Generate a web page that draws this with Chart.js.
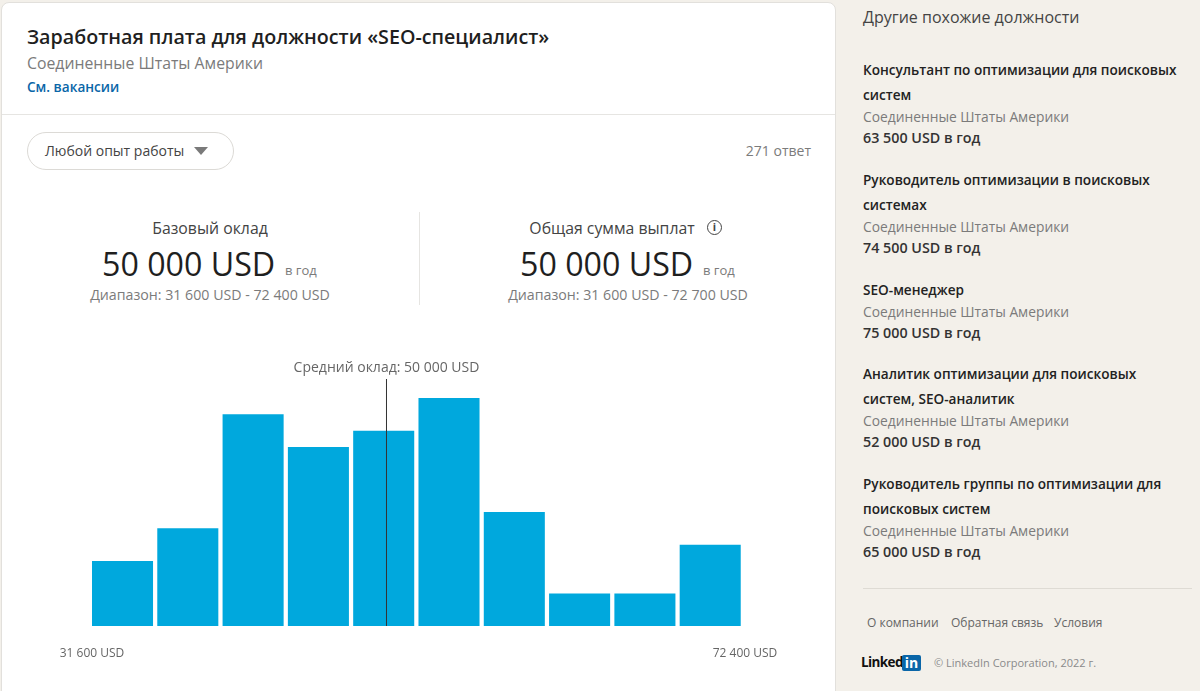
<!DOCTYPE html>
<html lang="ru">
<head>
<meta charset="utf-8">
<title>Заработная плата</title>
<script src="https://cdn.jsdelivr.net/npm/chart.js@4"></script>
<style>
  html, body { margin: 0; padding: 0; }
  body { width: 1200px; height: 691px; background: #f3f0ea; overflow: hidden; position: relative; font-family: "Open Sans", "Noto Sans", sans-serif; color: #2b2b2b; }
  #card { position: absolute; left: 1px; top: 2px; width: 835px; height: 700px; background: #fff; border: 1px solid #e2e0dc; border-radius: 8px; box-sizing: border-box; }
  .t { position: absolute; white-space: nowrap; line-height: 1.2; }
  .center { transform: translateX(-50%); }
  .grey { color: #7b7b7b; }
  .rule { position: absolute; background: #e6e5e2; }
  #salaryChart { position: absolute; left: 0; top: 340px; }
  #pill { position: absolute; left: 27px; top: 132px; width: 207px; height: 38px; border: 1px solid #dcdad6; border-radius: 19px; box-sizing: border-box; background: #fff; }
  #caret { position: absolute; left: 194px; top: 147px; width: 0; height: 0; border-left: 7px solid transparent; border-right: 7px solid transparent; border-top: 8px solid #7a7a7a; }
  #info { position: absolute; left: 707px; top: 220px; width: 15px; height: 15px; border: 1.5px solid #444; border-radius: 50%; box-sizing: border-box; font-size: 11px; font-weight: 700; line-height: 12px; text-align: center; color: #444; }
  #logoIn { position: absolute; left: 902px; top: 655px; width: 19px; height: 16px; background: #0a66a8; color: #fff; border-radius: 2px; font-size: 14px; font-weight: 700; line-height: 16px; text-align: center; }
</style>
</head>
<body>
<div id="card"></div>
<div class="t" style="left:27px;top:25px;font-size:19.7px;font-weight:600;color:#1f1f1f">Заработная плата для должности «SEO-специалист»</div>
<div class="t grey" style="left:27px;top:54px;font-size:15.8px">Соединенные Штаты Америки</div>
<div class="t" style="left:27px;top:79px;font-size:13.6px;font-weight:600;color:#0a66a8">См. вакансии</div>
<div class="rule" style="left:2px;top:114px;width:833px;height:1px"></div>
<div id="pill"></div>
<div class="t" style="left:45px;top:143px;font-size:14px;color:#444">Любой опыт работы</div>
<div id="caret"></div>
<div class="t grey" style="right:389px;top:143px;font-size:14px">271 ответ</div>

<div class="t center" style="left:210px;top:219px;font-size:15.8px;color:#444">Базовый оклад</div>
<div class="t" style="left:102px;top:245px;font-size:32.2px;color:#1f1f1f">50 000 USD</div>
<div class="t grey" style="left:285px;top:263px;font-size:13px">в год</div>
<div class="t center grey" style="left:210px;top:286px;font-size:14.2px">Диапазон: 31 600 USD - 72 400 USD</div>
<div class="rule" style="left:419px;top:212px;width:1px;height:93px"></div>
<div class="t center" style="left:612px;top:219px;font-size:15.8px;color:#444">Общая сумма выплат</div>
<div id="info">i</div>
<div class="t" style="left:520px;top:245px;font-size:32.2px;color:#1f1f1f">50 000 USD</div>
<div class="t grey" style="left:703px;top:263px;font-size:13px">в год</div>
<div class="t center grey" style="left:628px;top:286px;font-size:14.2px">Диапазон: 31 600 USD - 72 700 USD</div>

<canvas id="salaryChart" width="836" height="351"></canvas>

<div class="t" style="left:863px;top:8px;font-size:16px;color:#444">Другие похожие должности</div>
<div id="similar"></div>
<div class="rule" style="left:863px;top:588px;width:329px;height:1px;background:#dedbd4"></div>
<div class="t" style="left:867px;top:616px;font-size:12px;color:#666">О компании</div>
<div class="t" style="left:951px;top:616px;font-size:12px;color:#666">Обратная связь</div>
<div class="t" style="left:1054px;top:616px;font-size:12px;color:#666">Условия</div>
<div class="t" style="left:861px;top:654px;font-size:13.5px;font-weight:700;color:#111;letter-spacing:-0.6px">Linked</div>
<div id="logoIn">in</div>
<div class="t" style="left:934px;top:656px;font-size:11px;color:#8a8a8a">© LinkedIn Corporation, 2022 г.</div>

<script>
// Chart data
const binCentres = [33506, 37586, 41666, 45746, 49826, 53906, 57986, 62066, 66146, 70226];
const binCounts = [4, 6, 13, 11, 12, 14, 7, 2, 2, 5];
const rangeTicks = [31600, 72400];
const medianSalary = 50000;
const medianLineTop = 15.17;

// Sidebar data
const similarTitles = [
    ['Консультант по оптимизации для поисковых', 'систем'],
    ['Руководитель оптимизации в поисковых', 'системах'],
    ['SEO-менеджер'],
    ['Аналитик оптимизации для поисковых', 'систем, SEO-аналитик'],
    ['Руководитель группы по оптимизации для', 'поисковых систем']
];
const similarPay = ['63 500 USD в год', '74 500 USD в год', '75 000 USD в год', '52 000 USD в год', '65 000 USD в год'];
const similarTops = [62, 172, 282, 366, 476];

const fmtUsd = v => String(v).replace(/(\d)(?=(\d{3})$)/, '$1 ') + ' USD';

// Sidebar
const similar = document.getElementById('similar');
similarTitles.forEach((lines, i) => {
    let y = similarTops[i];
    let html = '';
    lines.forEach(line => {
        html += `<div class="t" style="left:863px;top:${y}px;font-size:13.6px;font-weight:600;color:#222">${line}</div>`;
        y += 25;
    });
    y -= 3;
    html += `<div class="t grey" style="left:863px;top:${y}px;font-size:13.8px">Соединенные Штаты Америки</div>`;
    html += `<div class="t" style="left:863px;top:${y + 20}px;font-size:14.3px;font-weight:600;color:#333">${similarPay[i]}</div>`;
    similar.innerHTML += html;
});

// Label above the median line
const medianLabel = {
    id: 'medianLabel',
    afterDraw(chart) {
        const ctx = chart.ctx;
        const x = chart.scales.x.getPixelForValue(medianSalary);
        ctx.save();
        ctx.font = '14px "Open Sans"';
        ctx.fillStyle = '#666';
        ctx.textAlign = 'center';
        ctx.textBaseline = 'middle';
        ctx.fillText('Средний оклад: ' + fmtUsd(medianSalary), x, 28);
        ctx.restore();
    }
};

new Chart(document.getElementById('salaryChart'), {
    data: {
        datasets: [
            {
                type: 'line',
                data: [{x: medianSalary, y: 0}, {x: medianSalary, y: medianLineTop}],
                borderColor: '#333',
                borderWidth: 1,
                pointRadius: 0,
                order: 0
            },
            {
                type: 'bar',
                data: binCentres.map((x, i) => ({x, y: binCounts[i]})),
                backgroundColor: '#00a8dd',
                barPercentage: 0.935,
                categoryPercentage: 1,
                order: 1
            }
        ]
    },
    options: {
        responsive: false,
        animation: false,
        layout: {padding: {left: 92, right: 91, top: 39, bottom: 17.5}},
        plugins: {legend: {display: false}, tooltip: {enabled: false}},
        scales: {
            x: {
                type: 'linear',
                min: rangeTicks[0],
                max: rangeTicks[1],
                offset: false,
                grid: {display: false},
                border: {display: false},
                afterBuildTicks: axis => { axis.ticks = rangeTicks.map(value => ({value})); },
                ticks: {
                    autoSkip: false,
                    maxRotation: 0,
                    padding: 12.5,
                    color: '#666',
                    font: {family: '"Open Sans"', size: 12},
                    callback: v => fmtUsd(v)
                }
            },
            y: {display: false, min: 0, max: medianLineTop}
        }
    },
    plugins: [medianLabel]
});
</script>
</body>
</html>
